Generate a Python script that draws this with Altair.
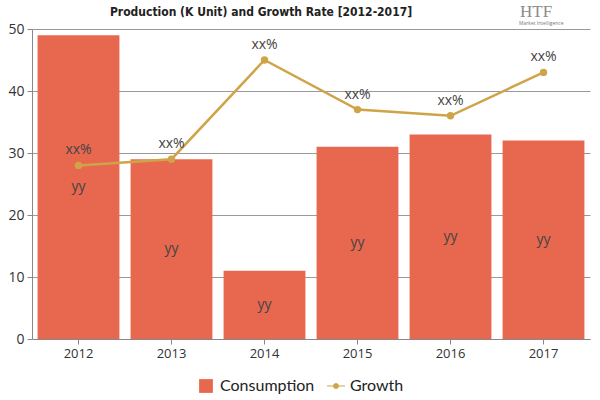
import altair as alt
import pandas as pd

years = ["2012", "2013", "2014", "2015", "2016", "2017"]
consumption = [49, 29, 11, 31, 33, 32]
growth = [28, 29, 45, 37, 36, 43]
bar_labels = ["yy"] * 6
growth_labels = ["xx%"] * 6

series_names = ["Consumption", "Growth"]
series_colors = ["#E8684F", "#CFA448"]
title_text = "Production (K Unit) and Growth Rate [2012-2017]"

bars_df = pd.DataFrame({"year": years, "value": consumption, "series": "Consumption", "label": bar_labels})
line_df = pd.DataFrame({"year": years, "value": growth, "series": "Growth", "label": growth_labels})
legend_df = pd.concat([bars_df, line_df])

FONT = "Open Sans"

x_enc = alt.X("year:N", title=None, sort=years,
              scale=alt.Scale(paddingInner=0.12, paddingOuter=0.06),
              axis=alt.Axis(labelAngle=0, labelFontSize=13, labelColor="#333", labelFont=FONT,
                            domainColor="#888", tickColor="#888", tickSize=5, labelPadding=3, grid=False))
y_enc = alt.Y("value:Q", title=None,
              scale=alt.Scale(domain=[0, 50], nice=False),
              axis=alt.Axis(values=[0, 10, 20, 30, 40, 50], labelFontSize=14, labelColor="#333", labelFont=FONT,
                            domainColor="#888", tickColor="#888", tickSize=5, labelPadding=3,
                            grid=True, gridColor="#999", gridWidth=1))
color_scale = alt.Scale(domain=series_names, range=series_colors)
color_enc = alt.Color("series:N", scale=color_scale, title=None,
                      legend=alt.Legend(orient="none", direction="horizontal", legendX=166, legendY=349,
                                        symbolOpacity=1, symbolSize=190, symbolStrokeWidth=0,
                                        labelFontSize=16, labelColor="#222", labelFont="Lato",
                                        columnPadding=12, labelOffset=6))

line_symbol = ("M-1.3,-0.09L1.3,-0.09L1.3,0.09L-1.3,0.09Z "
               "M0.44,0L0.38,0.22L0.22,0.38L0,0.44L-0.22,0.38L-0.38,0.22L-0.44,0L-0.38,-0.22L-0.22,-0.38L0,-0.44L0.22,-0.38L0.38,-0.22Z")

bars = alt.Chart(bars_df).mark_bar().encode(x=x_enc, y=y_enc, color=color_enc)

bar_text = alt.Chart(bars_df).transform_calculate(mid="datum.value / 2").mark_text(
    fontSize=14, color="#444", font=FONT
).encode(x=alt.X("year:N", sort=years), y=alt.Y("mid:Q"), text="label:N")

line = alt.Chart(line_df).mark_line(strokeWidth=2.5).encode(
    x=alt.X("year:N", sort=years), y="value:Q", color=color_enc)
pts = alt.Chart(line_df).mark_circle(size=55, opacity=1).encode(
    x=alt.X("year:N", sort=years), y="value:Q", color=color_enc)
line_text = alt.Chart(line_df).mark_text(fontSize=14, color="#444", font=FONT, dy=-15).encode(
    x=alt.X("year:N", sort=years), y="value:Q", text="label:N")

legend_layer = alt.Chart(legend_df).transform_filter("false").mark_point(filled=True, opacity=1).encode(
    x=alt.X("year:N", sort=years), y="value:Q",
    color=color_enc,
    shape=alt.Shape("series:N", scale=alt.Scale(domain=series_names, range=["square", line_symbol]),
                    title=None),
)

title = alt.Chart(pd.DataFrame({"t": [title_text]})).mark_text(
    font="DejaVu Sans Condensed", fontSize=12, fontWeight="bold", color="#222", align="center"
).encode(x=alt.value(229), y=alt.value(-17), text="t:N")

logo = alt.Chart(pd.DataFrame({"t": ["HTF"]})).mark_text(
    font="Liberation Serif", fontSize=17, color="#8a8a8a", align="left"
).encode(x=alt.value(488), y=alt.value(-17), text="t:N")
logo2 = alt.Chart(pd.DataFrame({"t": ["Market Intelligence"]})).mark_text(
    font=FONT, fontSize=5, color="#777", align="left"
).encode(x=alt.value(487), y=alt.value(-6), text="t:N")

chart = alt.layer(bars, bar_text, line, pts, line_text, legend_layer, title, logo, logo2).properties(
    width=558, height=310,
    autosize=alt.AutoSizeParams(type="none"),
    padding={"left": 32, "top": 29, "right": 10, "bottom": 61},
).configure_view(stroke=None)

chart.save("out.html", embed_options={"renderer": "svg", "actions": False})
